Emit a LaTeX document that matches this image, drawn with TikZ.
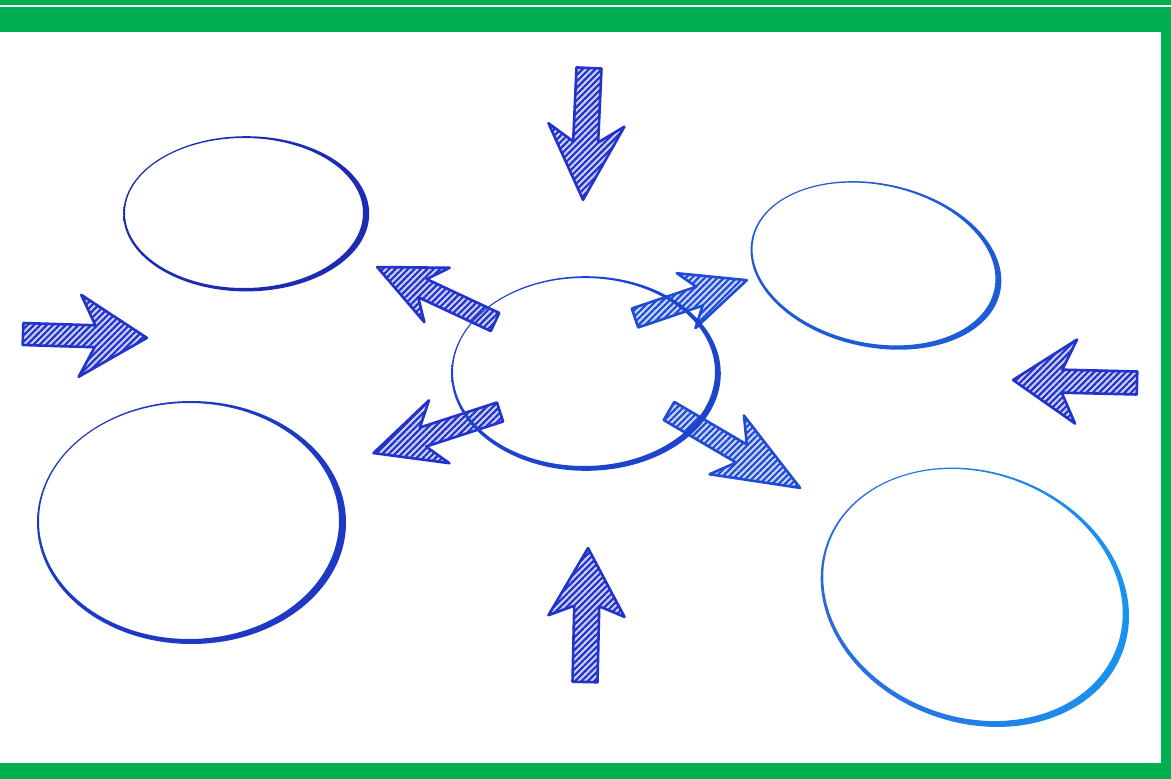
\documentclass[tikz,border=0pt]{standalone}
\usetikzlibrary{patterns.meta}
\definecolor{frame}{RGB}{0,176,80}
\definecolor{inkA}{RGB}{34,50,204}
\definecolor{inkB}{RGB}{30,76,214}
\definecolor{ringA}{RGB}{28,44,178}
\definecolor{ringB}{RGB}{30,58,196}
\definecolor{ringC}{RGB}{30,68,204}
\definecolor{ringD}{RGB}{30,92,214}
\definecolor{ringE}{RGB}{44,104,218}
\definecolor{ringF}{RGB}{24,150,242}
% #1 x, #2 y, #3 angle, #4 length, #5 shaft half width, #6 neck back, #7 wing back, #8 head half width, #9 colour
\newcommand{\HArrow}[9]{%
  \begin{scope}[shift={(#1,#2)},rotate=#3]
    \fill[#9!22] (0,-#5) -- ({#4-#6},-#5) -- ({#4-#7},-#8) -- (#4,0) -- ({#4-#7},#8) -- ({#4-#6},#5) -- (0,#5) -- cycle;
    \draw[#9, line width=2.6, line join=round,
      pattern={Lines[angle=45,distance=4.5pt,line width=2.2pt]}, pattern color=#9]
      (0,-#5) -- ({#4-#6},-#5) -- ({#4-#7},-#8) -- (#4,0) -- ({#4-#7},#8) -- ({#4-#6},#5) -- (0,#5) -- cycle;
  \end{scope}}
% #1 cx, #2 cy, #3 a, #4 b, #5 rotation, #6 shift x, #7 shift y, #8 min thickness, #9 colour/shading options
\newcommand{\ERing}[9]{%
  \begin{scope}[shift={(#1,#2)},rotate=#5]
    \shade[#9, even odd rule] (0,0) ellipse [x radius=#3, y radius=#4]
      (#6,#7) ellipse [x radius={#3+abs(#6)+#8}, y radius={#4+abs(#7)+#8}];
  \end{scope}}
\begin{document}
\begin{tikzpicture}[x=1pt,y=-1pt]
\useasboundingbox (0,0) rectangle (1171,779);
\fill[white] (0,0) rectangle (1171,779);
% frame
\fill[frame] (0,0) rectangle (1171,4.5);
\fill[frame] (0,7.3) rectangle (1171,32);
\fill[frame] (1161,7.3) rectangle (1171,779);
\fill[frame] (0,763) rectangle (1171,779);
% outer rings
\ERing{244}{213}{119}{75}{0}{2.2}{0.8}{1.8}{left color=ringA, right color=ringA}
\ERing{189}{521}{150}{118}{0}{2.5}{1.5}{2}{left color=ringB, right color=ringB}
\ERing{874}{264}{123}{79}{-12}{2.2}{1}{1.8}{left color=ringD, right color=ringD}
\ERing{973}{595}{153}{122}{-20}{2.5}{1.5}{2}{left color=ringE, right color=ringF}
% arrows
\HArrow{589}{68}{-92.6}{132}{12.5}{58}{75}{38}{inkA}
\HArrow{585}{682}{88.7}{134}{12.5}{58}{68}{38}{inkA}
\HArrow{23}{334}{-1.8}{124}{11}{52}{67}{41}{inkA}
\HArrow{1137}{383}{178.6}{124}{11.5}{49}{63}{42}{inkA}
\HArrow{495}{322}{155}{130}{10}{50}{66}{30}{inkA}
\HArrow{635}{318}{18.7}{118}{10}{50}{64}{29}{inkB}
\HArrow{500}{412}{198}{133}{10}{52}{69}{33}{inkA}
\HArrow{669}{411}{-30.4}{152}{10.5}{68}{85}{34}{inkB}
% centre ring on top
\ERing{584}{372}{131}{94}{0}{2}{1.5}{1.8}{left color=ringC, right color=ringC}
\end{tikzpicture}
\end{document}
